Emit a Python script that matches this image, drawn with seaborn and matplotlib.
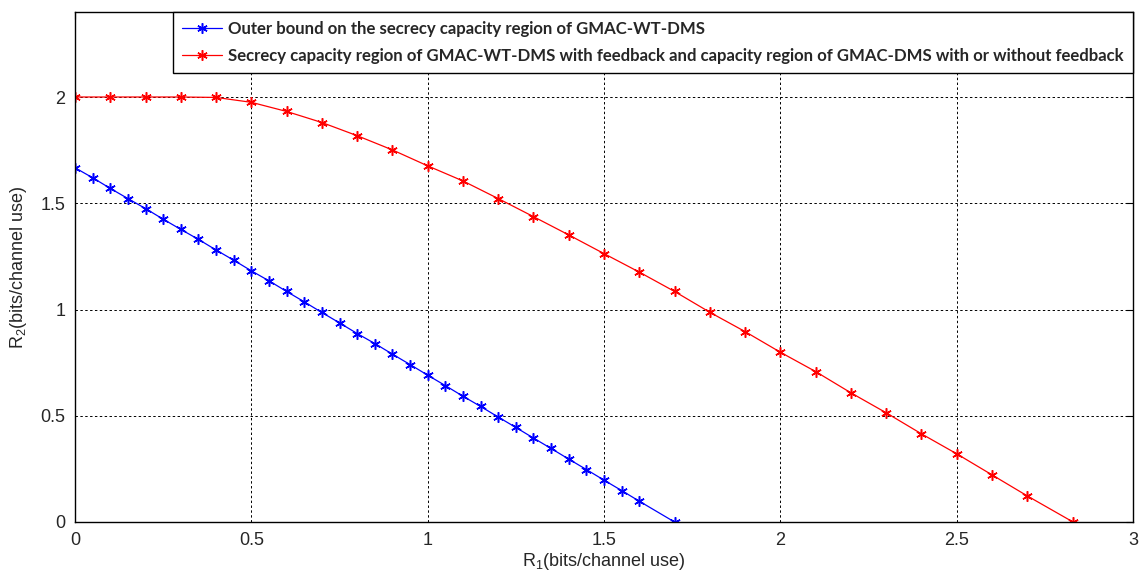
import matplotlib
matplotlib.use("Agg")
import matplotlib.pyplot as plt
import seaborn as sns
import numpy as np
import pandas as pd

# ---- data ----
outer_r1 = [0.0, 0.05, 0.10, 0.15, 0.20, 0.25, 0.30, 0.35, 0.40, 0.45, 0.50, 0.55,
            0.60, 0.65, 0.70, 0.75, 0.80, 0.85, 0.90, 0.95, 1.00, 1.05, 1.10, 1.15,
            1.20, 1.25, 1.30, 1.35, 1.40, 1.45, 1.50, 1.55, 1.60, 1.70]
outer_r2 = [1.667, 1.620, 1.570, 1.522, 1.475, 1.425, 1.377, 1.330, 1.280, 1.232, 1.182, 1.135,
            1.085, 1.036, 0.986, 0.937, 0.887, 0.840, 0.790, 0.741, 0.691, 0.642, 0.592, 0.544,
            0.494, 0.445, 0.395, 0.346, 0.296, 0.247, 0.197, 0.148, 0.098, 0.0]

fb_r1 = [0.0, 0.1, 0.2, 0.3, 0.4, 0.5, 0.6, 0.7, 0.8, 0.9, 1.0, 1.1, 1.2, 1.3,
         1.4, 1.5, 1.6, 1.7, 1.8, 1.9, 2.0, 2.1, 2.2, 2.3, 2.4, 2.5, 2.6, 2.7, 2.83]
fb_r2 = [2.0, 2.0, 2.0, 2.0, 1.998, 1.975, 1.932, 1.880, 1.818, 1.751, 1.676, 1.605, 1.522, 1.437,
         1.351, 1.263, 1.176, 1.085, 0.987, 0.896, 0.799, 0.708, 0.608, 0.514, 0.415, 0.321,
         0.222, 0.123, 0.0]

labels = ["Outer bound on the secrecy capacity region of GMAC-WT-DMS",
          "Secrecy capacity region of GMAC-WT-DMS with feedback and capacity region of GMAC-DMS with or without feedback"]
x_ticks = [0, 0.5, 1, 1.5, 2, 2.5, 3]
y_ticks = [0, 0.5, 1, 1.5, 2]
x_tick_labels = ["0", "0.5", "1", "1.5", "2", "2.5", "3"]
y_tick_labels = ["0", "0.5", "1", "1.5", "2"]

# ---- style ----
sns.set_style("white")
plt.rcParams["font.family"] = ["Liberation Sans", "DejaVu Sans"]
plt.rcParams["mathtext.default"] = "regular"

fig = plt.figure(figsize=(11.44, 5.71), dpi=100)
ax = fig.add_axes([75 / 1144, 1 - 522 / 571, (1133 - 75) / 1144, (522 - 12) / 571])

df1 = pd.DataFrame({"R1": outer_r1, "R2": outer_r2})
df2 = pd.DataFrame({"R1": fb_r1, "R2": fb_r2})

ast = (6, 2, 0)
sns.lineplot(data=df1, x="R1", y="R2", ax=ax, color=(0, 0, 1), lw=0.9,
             marker=ast, markersize=7.5, markeredgewidth=1.1, markeredgecolor=(0, 0, 1),
             label=labels[0], sort=False)
sns.lineplot(data=df2, x="R1", y="R2", ax=ax, color=(1, 0, 0), lw=0.9,
             marker=ast, markersize=7.5, markeredgewidth=1.1, markeredgecolor=(1, 0, 0),
             label=labels[1], sort=False)

ax.set_xlim(0, 3)
ax.set_ylim(0, 2.4)
ax.set_xticks(x_ticks)
ax.set_xticklabels(x_tick_labels)
ax.set_yticks(y_ticks)
ax.set_yticklabels(y_tick_labels)
ax.tick_params(direction="in", length=5, width=0.8, labelsize=13, top=True, right=True,
               color="black", pad=7)
ax.grid(True, color="black", linestyle=(0, (2.5, 2.5)), linewidth=0.7)
for s in ax.spines.values():
    s.set_color("black")
    s.set_linewidth(1.0)
    s.set_visible(True)

ax.set_xlabel("R$_1$(bits/channel use)", fontsize=13, labelpad=2)
ax.set_ylabel("R$_2$(bits/channel use)", fontsize=13, labelpad=8)

leg = ax.legend(loc="upper right", bbox_to_anchor=(1.0, 1.0), borderaxespad=0,
                fancybox=False, framealpha=1, edgecolor="black",
                prop={"family": ["Lato", "DejaVu Sans"], "weight": "bold", "size": 12.1},
                handlelength=2.4, handletextpad=0.35, borderpad=0.55, labelspacing=0.65)
leg.get_frame().set_linewidth(1.0)

fig.savefig("out.png", dpi=100)
